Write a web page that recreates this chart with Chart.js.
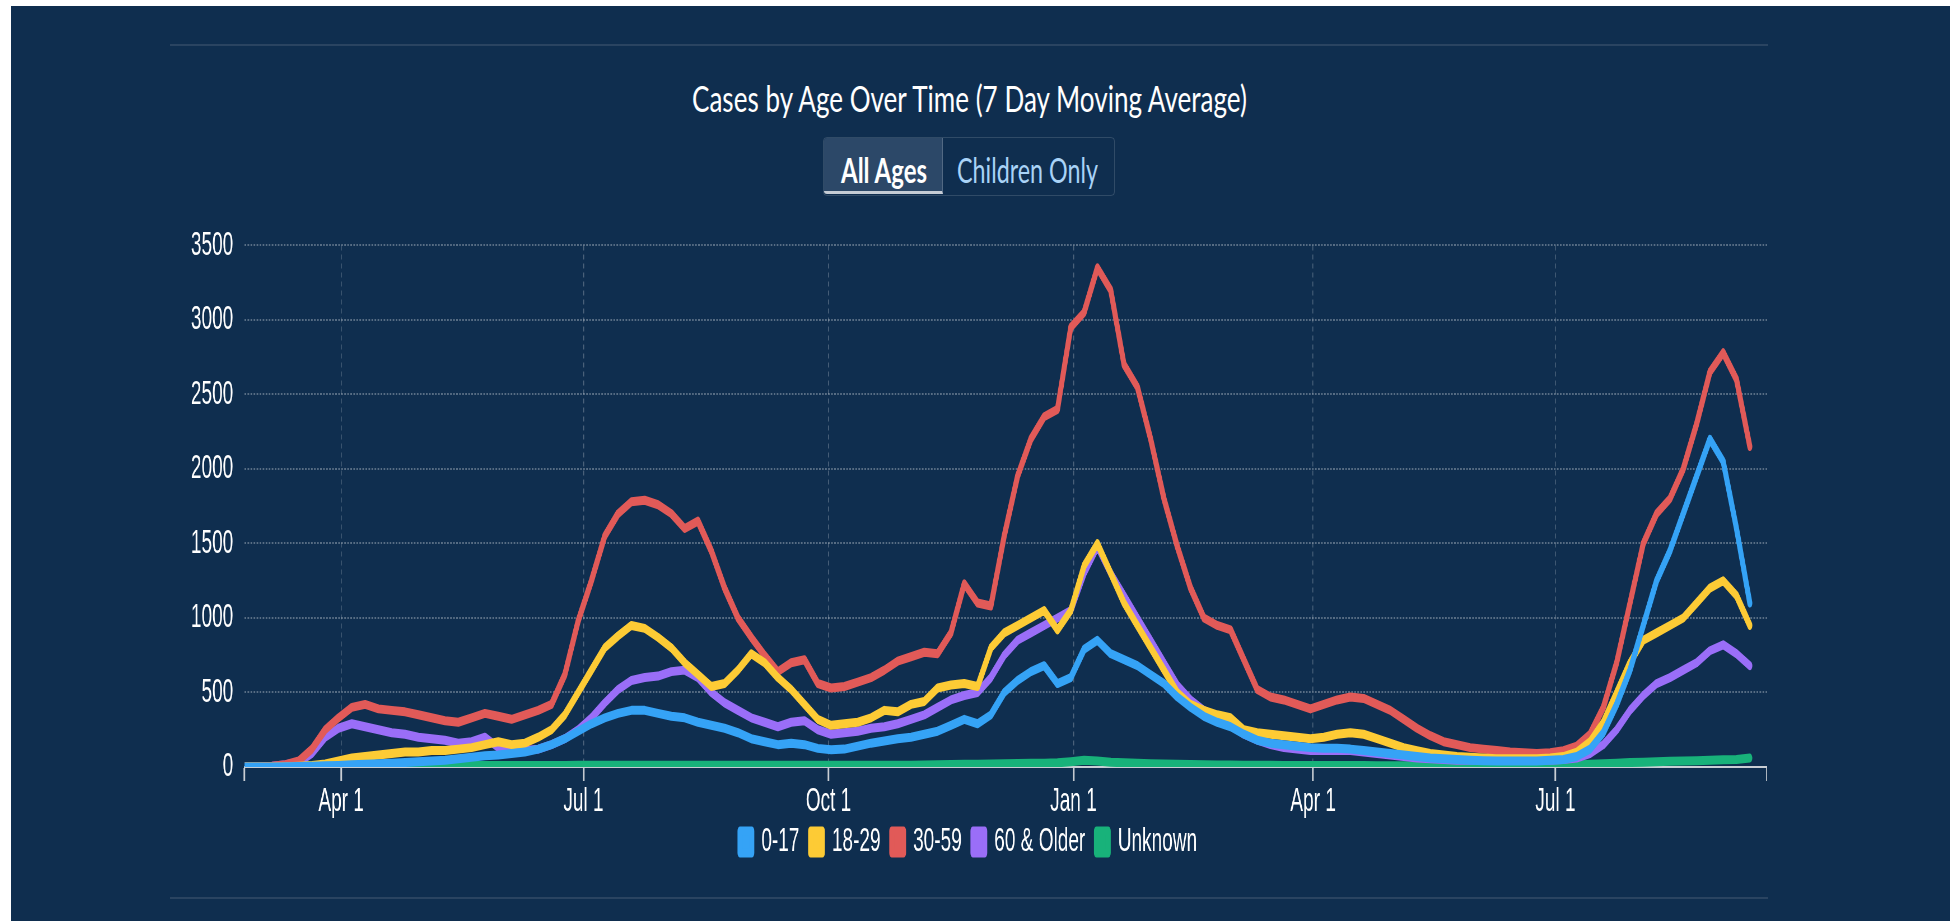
<!DOCTYPE html>
<html><head><meta charset="utf-8">
<script src="https://cdn.jsdelivr.net/npm/chart.js@4.4.1/dist/chart.umd.min.js"></script>
<style>
html,body{margin:0;padding:0;background:#fff;width:1950px;height:921px;overflow:hidden;}
#bg{position:absolute;left:11px;top:6px;width:1939px;height:915px;background:#0f2e4f;}
.rule{position:absolute;left:170px;width:1598px;height:2px;background:#2a4461;}
.txt{position:absolute;white-space:nowrap;font-family:Lato,"Open Sans",sans-serif;line-height:1;transform-origin:0 0;}
#title{color:#fff;font-size:37px;}
#allAges{color:#fff;font-size:34px;font-weight:bold;}
#children{color:#a9d3f7;font-size:34px;}
#group{position:absolute;left:823px;top:137px;width:290px;height:57px;border:1px solid rgba(255,255,255,0.14);border-radius:4px;}
#active{position:absolute;left:824px;top:138px;width:118px;height:53px;background:#2c4868;border-bottom:3px solid #c5ccd5;border-right:1px solid rgba(255,255,255,0.18);border-radius:3px 0 0 3px;}
#cv{position:absolute;left:170px;top:205px;transform:scaleX(0.56);transform-origin:0 0;}
</style></head>
<body>
<div id="bg"></div>
<div class="rule" style="top:44px"></div>
<div class="rule" style="top:897px"></div>
<div id="title" class="txt" data-l="692" data-w="555" data-b="112">Cases by Age Over Time (7 Day Moving Average)</div>
<div id="group"></div>
<div id="active"></div>
<div id="allAges" class="txt" data-l="841" data-w="86" data-b="183">All Ages</div>
<div id="children" class="txt" data-l="957" data-w="141" data-b="183">Children Only</div>
<canvas id="cv" width="2852" height="664"></canvas>
<script>
// ---- data (x = day number counted from 2020-01-01 = day 0) ----
const tickDays = [91, 182, 274, 366, 456, 547];
const tickLabels = ['Apr 1', 'Jul 1', 'Oct 1', 'Jan 1', 'Apr 1', 'Jul 1'];
const xMin = 54.7, xMax = 626.5;
const seriesNames = ['0-17', '18-29', '30-59', '60 & Older', 'Unknown'];
const seriesColors = ['#35a3f6', '#fdcb35', '#e15a58', '#9a6ef8', '#18b27a'];
const days = [55,60,65,70,75,80,85,90,95,100,105,110,115,120,125,130,135,140,145,150,
155,160,165,170,175,180,185,190,195,200,205,210,215,220,225,230,235,240,245,250,
255,260,265,270,275,280,285,290,295,300,305,310,315,320,325,330,335,340,345,350,
355,360,365,370,375,380,385,390,395,400,405,410,415,420,425,430,435,440,445,450,
455,460,465,470,475,480,485,490,495,500,505,510,515,520,525,530,535,540,545,550,
555,560,565,570,575,580,585,590,595,600,605,610,615,620];
const age0_17 = [0,0,0,2,3,5,8,10,15,18,22,25,30,35,40,45,55,65,75,80,
90,100,120,150,190,240,290,330,360,380,380,360,340,330,300,280,260,230,190,170,
150,160,150,125,115,120,140,160,175,190,200,220,240,280,320,290,350,500,580,640,
680,560,600,790,850,760,720,680,620,560,470,400,340,300,270,220,180,160,150,140,
130,125,125,120,110,100,90,80,70,60,55,50,45,42,40,40,40,40,45,50,
70,120,230,420,650,950,1250,1450,1700,1950,2200,2050,1600,1100];
const age18_29 = [0,0,0,2,5,10,20,40,60,70,80,90,100,100,110,110,120,130,150,170,
150,160,200,250,350,500,650,800,880,950,930,870,800,700,620,540,560,650,760,700,
600,520,420,320,280,290,300,330,380,370,420,440,530,550,560,540,800,900,950,1000,
1050,920,1050,1350,1500,1300,1100,950,800,650,500,420,380,350,330,250,230,220,210,200,
190,200,220,230,220,190,160,130,110,90,80,70,65,60,55,55,55,55,60,70,
100,170,300,500,700,850,900,950,1000,1100,1200,1250,1150,950];
const age30_59 = [0,0,5,15,40,120,250,330,400,420,390,380,370,350,330,310,300,330,360,340,
320,350,380,420,620,980,1250,1550,1700,1780,1790,1760,1700,1600,1650,1450,1200,1000,870,750,
640,700,720,560,530,540,570,600,650,710,740,770,760,900,1230,1100,1080,1550,1950,2200,
2350,2400,2950,3050,3350,3200,2700,2550,2200,1800,1480,1200,1000,950,920,720,520,470,450,420,
390,420,450,470,460,420,380,320,260,210,170,150,130,120,110,100,95,90,95,110,
140,220,400,700,1100,1500,1700,1800,2000,2300,2650,2780,2600,2150];
const age60plus = [0,0,5,15,30,90,200,260,290,270,250,230,220,200,190,180,160,170,200,130,
120,110,120,150,190,250,330,430,520,580,600,610,640,650,600,500,430,380,330,300,
270,300,310,250,220,230,240,260,270,290,320,350,400,450,480,500,600,750,850,900,
950,1000,1050,1300,1480,1300,1150,1000,850,700,550,450,380,330,280,220,180,150,130,120,
110,110,110,110,100,90,80,70,60,55,50,45,45,45,45,45,45,45,45,50,
60,90,150,250,380,480,560,600,650,700,780,820,760,680];
const ageUnknown = [0,2,3,5,6,8,10,10,10,10,10,10,10,10,10,10,10,10,10,10,
10,10,10,10,10,12,12,12,12,12,12,12,12,12,12,12,12,12,12,12,
12,12,12,12,12,12,12,12,12,12,12,14,15,16,18,18,20,22,24,25,
26,28,35,45,40,32,28,25,22,20,18,16,15,14,13,12,12,11,10,10,
10,10,10,10,10,9,8,8,8,8,8,8,8,8,8,8,9,10,10,12,
14,18,22,26,30,32,35,38,40,42,45,48,50,60];
const seriesValues = [age0_17, age18_29, age30_59, age60plus, ageUnknown];

// ---- text fitting ----
document.querySelectorAll('.txt').forEach(el => {
  const m = document.createElement('span');
  m.style.cssText = 'display:inline-block;width:0;height:0;vertical-align:baseline';
  el.appendChild(m);
  el.style.left = el.dataset.l + 'px';
  el.style.top = '0px';
  const base = m.getBoundingClientRect().top - el.getBoundingClientRect().top;
  el.style.top = (parseFloat(el.dataset.b) - base) + 'px';
  const w = el.getBoundingClientRect().width;
  el.style.transform = 'scaleX(' + (parseFloat(el.dataset.w) / w) + ')';
});

// ---- chart ----
const FONT = '"Liberation Sans", Arial, Helvetica, sans-serif';
const datasets = seriesNames.map((name, i) => ({
  label: name,
  data: days.map((d, j) => ({x: d, y: seriesValues[i][j]})),
  borderColor: seriesColors[i],
  backgroundColor: seriesColors[i],
  borderWidth: 9,
  borderJoinStyle: 'round',
  borderCapStyle: 'round',
  pointRadius: 0,
  pointHoverRadius: 0,
  tension: 0,
  fill: false
}));

new Chart(document.getElementById('cv'), {
  type: 'line',
  data: {datasets},
  options: {
    responsive: false,
    animation: false,
    layout: {padding: 0},
    plugins: {
      tooltip: {enabled: false},
      legend: {
        position: 'bottom',
        labels: {color: '#ffffff', boxWidth: 21, boxHeight: 22, padding: 20,
                 font: {family: FONT, size: 34}}
      }
    },
    scales: {
      x: {
        type: 'linear',
        min: xMin, max: xMax,
        afterBuildTicks: s => { s.ticks = [xMin].concat(tickDays, [xMax]).map(v => ({value: v})); },
        afterFit: s => { s.height = 38; s._computeLabelArea = () => undefined; },
        ticks: {
          autoSkip: false, maxRotation: 0, color: '#ffffff', padding: 0,
          font: {family: FONT, size: 34},
          callback: v => { const k = tickDays.indexOf(v); return k >= 0 ? tickLabels[k] : ''; }
        },
        grid: {
          drawTicks: true, tickLength: 14, tickWidth: 3, tickColor: '#c9ced4',
          lineWidth: 1.5,
          color: c => (c.tick && tickDays.indexOf(c.tick.value) >= 0) ? 'rgba(255,255,255,0.28)' : 'rgba(0,0,0,0)'
        },
        border: {display: true, color: '#c9ced4', width: 2, dash: [5, 4]}
      },
      y: {
        min: 0, max: 3500,
        afterFit: s => { s.width = 133; },
        ticks: {stepSize: 500, color: '#ffffff', padding: 20, font: {family: FONT, size: 34},
                callback: v => String(v)},
        grid: {drawTicks: false, lineWidth: 2, color: 'rgba(255,255,255,0.3)'},
        border: {display: false, dash: [3, 2.4]}
      }
    }
  }
});
</script>
</body></html>
